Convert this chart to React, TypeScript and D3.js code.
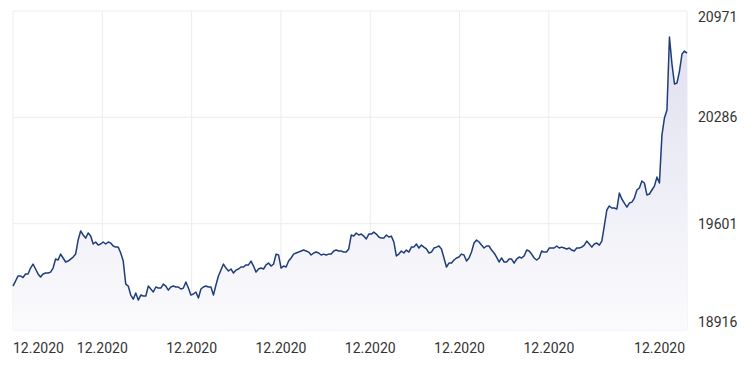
import React from "react";
import * as d3 from "d3";

// Index values (uniformly spaced in time)
const values: number[] = [
  19199, 19231, 19264, 19264, 19254, 19277, 19277, 19315, 19341, 19309,
  19277, 19257, 19277, 19283, 19283, 19289, 19315, 19373, 19367, 19405,
  19380, 19354, 19360, 19373, 19386, 19405, 19496, 19554, 19528, 19508,
  19541, 19521, 19470, 19483, 19463, 19470, 19483, 19470, 19483, 19476,
  19457, 19450, 19450, 19412, 19360, 19212, 19199, 19141, 19115, 19154,
  19109, 19141, 19135, 19135, 19199, 19180, 19161, 19193, 19186, 19186,
  19212, 19199, 19173, 19193, 19199, 19193, 19193, 19180, 19186, 19225,
  19186, 19141, 19148, 19161, 19122, 19180, 19193, 19199, 19193, 19193,
  19141, 19206, 19264, 19302, 19341, 19315, 19296, 19309, 19283, 19302,
  19309, 19322, 19322, 19335, 19335, 19360, 19328, 19289, 19309, 19315,
  19309, 19335, 19347, 19328, 19341, 19405, 19399, 19315, 19328, 19322,
  19360, 19380, 19405, 19412, 19418, 19425, 19431, 19425, 19418, 19399,
  19412, 19418, 19412, 19399, 19405, 19399, 19405, 19405, 19425, 19431,
  19425, 19425, 19418, 19418, 19438, 19528, 19521, 19541, 19528, 19534,
  19521, 19502, 19534, 19534, 19547, 19534, 19515, 19508, 19508, 19528,
  19515, 19521, 19483, 19393, 19405, 19425, 19412, 19431, 19418, 19450,
  19450, 19470, 19444, 19463, 19450, 19438, 19412, 19418, 19444, 19450,
  19457, 19438, 19380, 19322, 19347, 19347, 19367, 19380, 19386, 19405,
  19399, 19360, 19380, 19418, 19476, 19496, 19483, 19463, 19444, 19457,
  19457, 19431, 19412, 19386, 19354, 19380, 19354, 19354, 19373, 19373,
  19347, 19373, 19386, 19380, 19393, 19431, 19425, 19405, 19380, 19367,
  19380, 19425, 19418, 19418, 19444, 19444, 19444, 19457, 19444, 19450,
  19444, 19438, 19444, 19431, 19425, 19444, 19444, 19450, 19463, 19489,
  19470, 19450, 19470, 19476, 19463, 19489, 19586, 19689, 19715, 19702,
  19702, 19695, 19798, 19760, 19734, 19708, 19734, 19740, 19766, 19818,
  19831, 19876, 19863, 19786, 19792, 19818, 19843, 19901, 19863, 20172,
  20282, 20333, 20803, 20629, 20501, 20507, 20584, 20694, 20713, 20700,
];

const yTicks: number[] = [18916, 19601, 20286, 20971];
const startTime = new Date(2020, 11, 1, 0, 0);
const endTime = new Date(2020, 11, 31, 4, 30);
const gridDates: Date[] = [5, 9, 13, 17, 21, 25].map((d) => new Date(2020, 11, d));
const xFormat = d3.timeFormat("%m.%Y");

const W = 754;
const H = 368;
const M = { left: 13, right: 67, top: 11, bottom: 38 };

export default function App() {
  const x0 = M.left;
  const x1 = W - M.right;
  const y0 = M.top;
  const y1 = H - M.bottom;

  const step = (endTime.getTime() - startTime.getTime()) / (values.length - 1);
  const data = values.map((v, i) => ({ t: new Date(startTime.getTime() + i * step), v }));

  const x = d3.scaleTime().domain([startTime, endTime]).range([x0, x1]);
  const y = d3.scaleLinear().domain([yTicks[0], yTicks[yTicks.length - 1]]).range([y1, y0]);

  const line = d3.line<{ t: Date; v: number }>().x((d) => x(d.t)).y((d) => y(d.v));
  const area = d3
    .area<{ t: Date; v: number }>()
    .x((d) => x(d.t))
    .y0(y1)
    .y1((d) => y(d.v));

  const font = "Roboto, 'Noto Sans', sans-serif";
  const gridColor = "#ececf0";

  return (
    <svg
      width={W}
      height={H}
      style={{ position: "absolute", left: 0, top: 0, background: "#fff" }}
    >
      <defs>
        <linearGradient id="areaGrad" gradientUnits="userSpaceOnUse" x1="0" y1={y0} x2="0" y2={y1}>
          <stop offset="0%" stopColor="#dedeef" />
          <stop offset="100%" stopColor="#fbfbfd" />
        </linearGradient>
      </defs>
      {/* grid */}
      {yTicks.map((t) => (
        <line key={"gy" + t} x1={x0} x2={x1} y1={y(t)} y2={y(t)} stroke={gridColor} strokeWidth={1} />
      ))}
      <line x1={x0} x2={x0} y1={y0} y2={y1} stroke={gridColor} strokeWidth={1} />
      <line x1={x1} x2={x1} y1={y0} y2={y1} stroke={gridColor} strokeWidth={1} />
      {gridDates.map((d, i) => (
        <line key={"gx" + i} x1={x(d)} x2={x(d)} y1={y0} y2={y1} stroke={gridColor} strokeWidth={1} />
      ))}
      {/* area + line */}
      <path d={area(data) || ""} fill="url(#areaGrad)" />
      <path d={line(data) || ""} fill="none" stroke="#1f3d78" strokeWidth={1.5} strokeLinejoin="round" />
      {/* x labels */}
      <g fontFamily={font} fontSize={14} fill="#333">
        <text x={x(startTime)} y={353} textAnchor="start">
          {xFormat(startTime)}
        </text>
        {gridDates.map((d, i) => (
          <text key={"xl" + i} x={x(d)} y={353} textAnchor="middle">
            {xFormat(d)}
          </text>
        ))}
        <text x={x(endTime) - 2} y={353} textAnchor="end">
          {xFormat(endTime)}
        </text>
        {/* y labels */}
        {yTicks.map((t) => {
          const cy = Math.min(Math.max(y(t), y0 + 6), y1 - 8);
          return (
            <text key={"yl" + t} x={x1 + 11} y={cy} dy="0.36em" textAnchor="start">
              {t}
            </text>
          );
        })}
      </g>
    </svg>
  );
}
